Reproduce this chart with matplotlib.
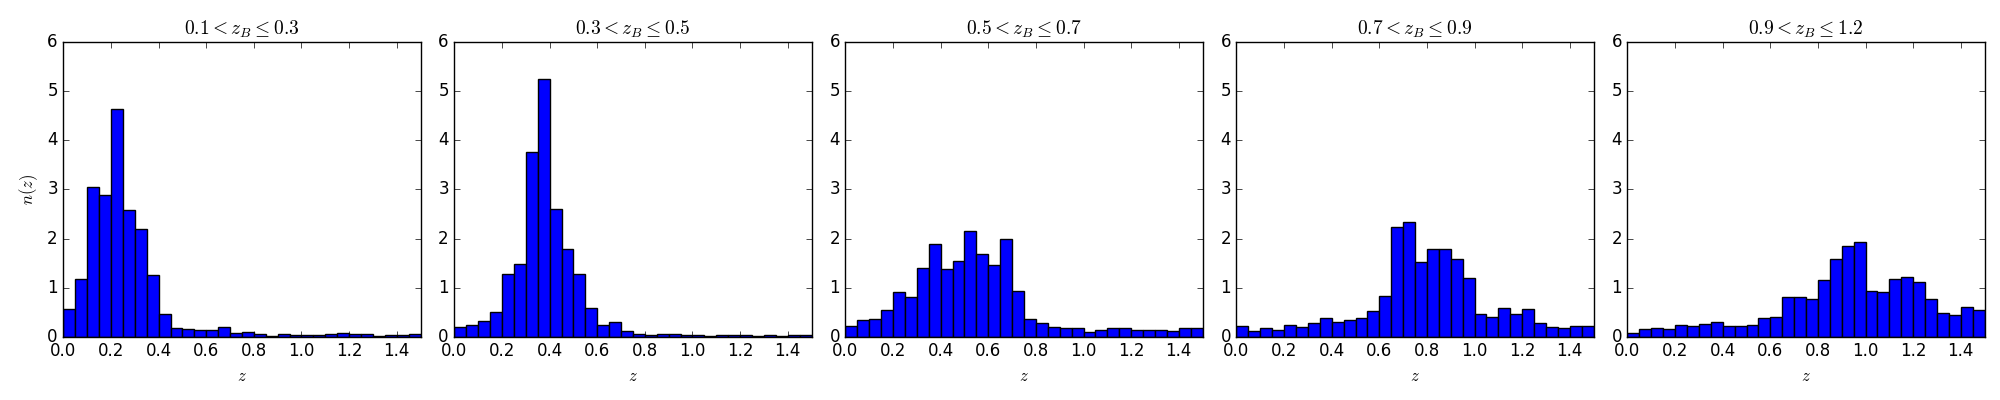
import matplotlib as mpl
mpl.use("Agg")
import matplotlib.pyplot as plt
import numpy as np

# --- Datos: n(z) por intervalo de z_B, 30 bins de ancho 0.05 en [0, 1.5] ---
bin_edges = np.linspace(0.0, 1.5, 31)

titles = [
    r"$0.1 < z_B \leq 0.3$",
    r"$0.3 < z_B \leq 0.5$",
    r"$0.5 < z_B \leq 0.7$",
    r"$0.7 < z_B \leq 0.9$",
    r"$0.9 < z_B \leq 1.2$",
]

nz_01_03 = [0.56, 1.17, 3.05, 2.89, 4.63, 2.58, 2.20, 1.25, 0.46, 0.17,
            0.15, 0.13, 0.13, 0.19, 0.07, 0.10, 0.05, 0.02, 0.05, 0.03,
            0.03, 0.03, 0.05, 0.07, 0.05, 0.05, 0.02, 0.03, 0.03, 0.05]

nz_03_05 = [0.19, 0.25, 0.32, 0.50, 1.27, 1.49, 3.76, 5.24, 2.61, 1.78,
            1.27, 0.58, 0.25, 0.30, 0.11, 0.05, 0.03, 0.05, 0.05, 0.03,
            0.03, 0.02, 0.03, 0.03, 0.03, 0.02, 0.03, 0.02, 0.03, 0.03]

nz_05_07 = [0.22, 0.35, 0.37, 0.54, 0.91, 0.80, 1.41, 1.88, 1.39, 1.54,
            2.15, 1.68, 1.46, 2.00, 0.93, 0.37, 0.29, 0.20, 0.18, 0.18,
            0.10, 0.13, 0.17, 0.17, 0.13, 0.13, 0.13, 0.11, 0.17, 0.17]

nz_07_09 = [0.21, 0.12, 0.17, 0.13, 0.23, 0.19, 0.29, 0.39, 0.31, 0.34,
            0.39, 0.52, 0.83, 2.24, 2.34, 1.53, 1.79, 1.79, 1.59, 1.20,
            0.47, 0.41, 0.58, 0.47, 0.56, 0.29, 0.20, 0.18, 0.22, 0.22]

nz_09_12 = [0.07, 0.15, 0.18, 0.15, 0.23, 0.21, 0.26, 0.31, 0.22, 0.22,
            0.25, 0.39, 0.41, 0.80, 0.82, 0.76, 1.16, 1.59, 1.84, 1.92,
            0.94, 0.92, 1.18, 1.22, 1.11, 0.76, 0.49, 0.44, 0.61, 0.54]

series = [nz_01_03, nz_03_05, nz_05_07, nz_07_09, nz_09_12]

# --- Figura ---
plt.style.use("classic")
mpl.rcParams.update({
    "mathtext.fontset": "cm",
    "font.family": "DejaVu Sans",
})

fig, axes = plt.subplots(1, 5, figsize=(20, 4), dpi=100)
fig.patch.set_facecolor("white")
fig.subplots_adjust(left=0.0317, right=0.9923, top=0.895, bottom=0.158, wspace=0.095)

widths = np.diff(bin_edges)
for i, (ax, vals, title) in enumerate(zip(axes, series, titles)):
    ax.bar(bin_edges[:-1], vals, width=widths, align="edge",
           color="b", edgecolor="k", linewidth=1.0)
    ax.set_xlim(0.0, 1.5)
    ax.set_ylim(0, 6)
    ax.set_xticks(np.arange(0.0, 1.41, 0.2))
    ax.set_yticks(range(0, 7))
    ax.set_title(title, fontsize=14)
    ax.set_xlabel(r"$z$", fontsize=12)
    if i == 0:
        ax.set_ylabel(r"$n(z)$", fontsize=12)
    ax.tick_params(labelsize=12)

fig.savefig("out.png", dpi=100, facecolor="white")
plt.close(fig)
